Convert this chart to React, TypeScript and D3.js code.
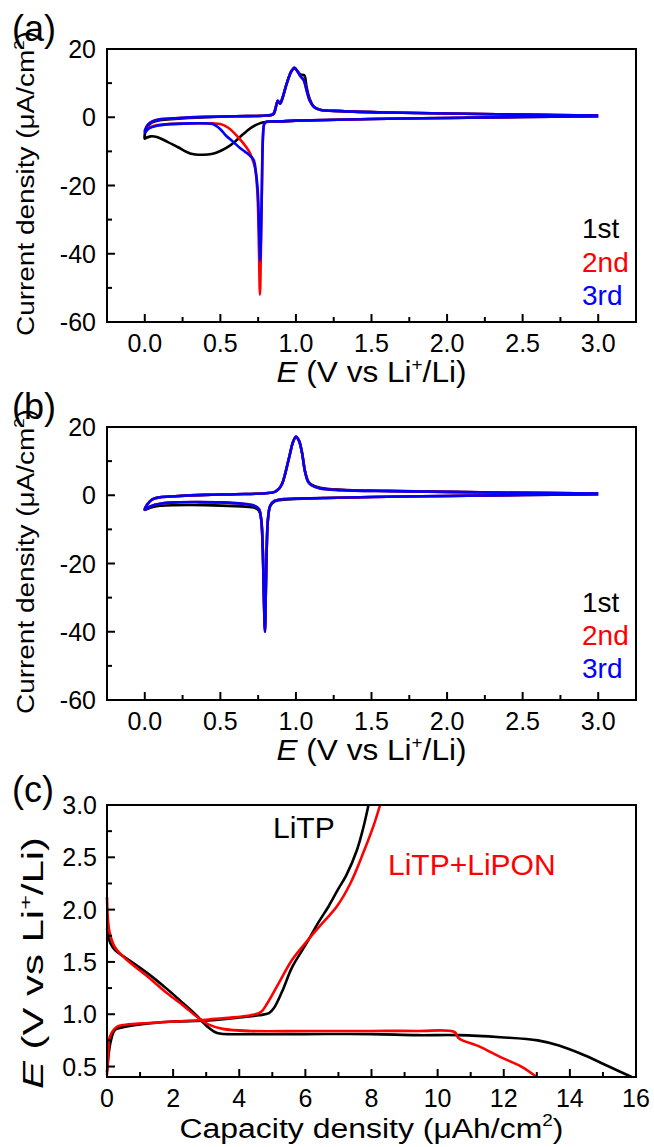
import React, { useEffect, useRef } from "react";
import * as d3 from "d3";

type Pt = [number, number];

// ---- (a) CV, three cycles (E in V, current in uA/cm2) ----
const aCycle1: Pt[] = [
  [3.0, 0.3], [2.5, 0.1], [2.0, -0.2], [1.5, -0.5], [1.2, -0.8], [1.0, -1.0], [0.9, -1.2], [0.8, -1.4],
  [0.76, -1.8], [0.7, -3.2], [0.65, -5], [0.6, -7], [0.55, -8.7], [0.5, -9.9], [0.45, -10.7], [0.38, -11],
  [0.3, -10.6], [0.22, -8.8], [0.15, -7.2], [0.08, -5.8], [0.04, -5.6], [0.01, -6], [0.0, -6.3],
  [0.005, -4], [0.02, -2.5], [0.05, -1.5], [0.1, -0.9], [0.2, -0.5], [0.4, 0.0], [0.6, 0.3], [0.8, 0.5],
  [0.85, 0.9], [0.87, 3.5], [0.88, 4.8], [0.895, 4.0], [0.91, 5.5], [0.94, 10], [0.97, 13.5], [0.99, 14.3],
  [1.01, 13.5], [1.03, 12.5], [1.055, 12.3], [1.07, 9], [1.09, 5.5], [1.12, 3], [1.16, 2.2], [1.3, 1.8],
  [1.6, 1.4], [2.0, 1.1], [2.5, 0.8], [3.0, 0.5],
];
const aCycle2: Pt[] = [
  [3.0, 0.3], [2.5, 0.1], [2.0, -0.2], [1.5, -0.5], [1.2, -0.8], [1.0, -1.0], [0.9, -1.2], [0.8, -1.4],
  [0.79, -2], [0.782, -5], [0.775, -20], [0.768, -40], [0.762, -52], [0.755, -38], [0.745, -22], [0.73, -15],
  [0.71, -12], [0.69, -10], [0.65, -7.5], [0.6, -5], [0.55, -3], [0.5, -2], [0.45, -1.8], [0.3, -1.8],
  [0.15, -2], [0.08, -2.3], [0.03, -3], [0.0, -4],
  [0.02, -2.2], [0.05, -1.2], [0.1, -0.6], [0.2, -0.3], [0.4, 0.1], [0.6, 0.3], [0.8, 0.5],
  [0.85, 0.9], [0.87, 3.5], [0.88, 4.8], [0.895, 4.0], [0.91, 5.5], [0.94, 10], [0.97, 13.5], [0.99, 14.5],
  [1.01, 13.5], [1.03, 12], [1.05, 11], [1.07, 8], [1.09, 5], [1.12, 3], [1.16, 2.2], [1.3, 1.8],
  [1.6, 1.4], [2.0, 1.1], [2.5, 0.8], [3.0, 0.5],
];
const aCycle3: Pt[] = [
  [3.0, 0.3], [2.5, 0.1], [2.0, -0.2], [1.5, -0.5], [1.2, -0.8], [1.0, -1.0], [0.9, -1.2], [0.8, -1.4],
  [0.79, -2], [0.782, -6], [0.775, -20], [0.768, -36], [0.763, -42], [0.757, -34], [0.748, -22], [0.735, -16],
  [0.72, -12.5], [0.69, -11], [0.66, -10], [0.63, -9], [0.58, -7], [0.54, -5.5], [0.5, -3.5], [0.45, -2],
  [0.4, -1.8], [0.3, -1.8], [0.15, -2.1], [0.08, -2.5], [0.03, -3.2], [0.0, -4.5],
  [0.02, -2.2], [0.05, -1.2], [0.1, -0.6], [0.2, -0.3], [0.4, 0.1], [0.6, 0.3], [0.8, 0.5],
  [0.85, 0.9], [0.87, 3.5], [0.88, 4.8], [0.895, 4.0], [0.91, 5.5], [0.94, 10], [0.97, 13.5], [0.99, 14.6],
  [1.01, 13.5], [1.03, 12], [1.05, 11], [1.07, 8], [1.09, 5], [1.12, 3], [1.16, 2.2], [1.3, 1.8],
  [1.6, 1.4], [2.0, 1.1], [2.5, 0.8], [3.0, 0.5],
];

// ---- (b) CV, three cycles ----
const bCycle1: Pt[] = [
  [3.0, 0.3], [2.5, 0.1], [2.0, -0.2], [1.5, -0.5], [1.2, -0.8], [1.0, -1.1], [0.92, -1.3], [0.86, -1.8],
  [0.83, -3.2], [0.815, -7], [0.807, -15], [0.8, -30], [0.795, -39], [0.788, -30], [0.78, -15], [0.77, -7],
  [0.755, -4.5], [0.72, -3.6], [0.6, -3.2], [0.4, -2.9], [0.2, -2.9], [0.1, -3.1], [0.04, -3.6], [0.0, -4.3],
  [0.02, -2.5], [0.05, -1.2], [0.1, -0.6], [0.2, -0.3], [0.4, 0.1], [0.6, 0.3], [0.8, 0.6], [0.86, 1.0],
  [0.89, 2], [0.91, 3.5], [0.93, 6.5], [0.96, 12], [0.98, 15.5], [1.0, 17], [1.02, 16], [1.04, 12.5],
  [1.06, 7], [1.08, 4.2], [1.1, 3.2], [1.16, 2.2], [1.3, 1.6], [1.6, 1.3], [2.0, 1.0], [2.5, 0.7], [3.0, 0.5],
];
const bCycle2: Pt[] = [
  [3.0, 0.3], [2.5, 0.1], [2.0, -0.2], [1.5, -0.5], [1.2, -0.8], [1.0, -1.0], [0.92, -1.1], [0.86, -1.6],
  [0.83, -3], [0.815, -7], [0.807, -15], [0.8, -30], [0.795, -40], [0.788, -30], [0.78, -15], [0.77, -7],
  [0.755, -4], [0.72, -3], [0.65, -2.5], [0.5, -2.1], [0.35, -2], [0.2, -2.1], [0.1, -2.5], [0.04, -3.2],
  [0.0, -4.2],
  [0.02, -2.5], [0.05, -1.2], [0.1, -0.6], [0.2, -0.3], [0.4, 0.1], [0.6, 0.3], [0.8, 0.6], [0.86, 1.0],
  [0.89, 2], [0.91, 3.5], [0.93, 6.5], [0.96, 12], [0.98, 15.5], [1.0, 17.2], [1.02, 16], [1.04, 12.5],
  [1.06, 7], [1.08, 4], [1.1, 3], [1.16, 2], [1.3, 1.5], [1.6, 1.2], [2.0, 1.0], [2.5, 0.7], [3.0, 0.5],
];
const bCycle3: Pt[] = [
  [3.0, 0.3], [2.5, 0.1], [2.0, -0.2], [1.5, -0.5], [1.2, -0.8], [1.0, -1.0], [0.92, -1.1], [0.86, -1.6],
  [0.83, -3], [0.815, -7], [0.807, -15], [0.8, -30], [0.795, -40], [0.788, -30], [0.78, -15], [0.77, -7],
  [0.755, -4], [0.72, -3], [0.65, -2.5], [0.5, -2.1], [0.35, -2], [0.2, -2.1], [0.1, -2.5], [0.04, -3.2],
  [0.0, -4.2],
  [0.02, -2.5], [0.05, -1.2], [0.1, -0.6], [0.2, -0.3], [0.4, 0.1], [0.6, 0.3], [0.8, 0.6], [0.86, 1.0],
  [0.89, 2], [0.91, 3.5], [0.93, 6.5], [0.96, 12], [0.98, 15.5], [1.0, 17.2], [1.02, 16], [1.04, 12.5],
  [1.06, 7], [1.08, 4], [1.1, 3], [1.16, 2], [1.3, 1.5], [1.6, 1.2], [2.0, 1.0], [2.5, 0.7], [3.0, 0.5],
];

// ---- (c) discharge / charge (capacity uAh/cm2, E in V) ----
const litpDischarge: Pt[] = [
  [0, 1.82], [0.1, 1.68], [0.25, 1.61], [0.56, 1.54], [1.19, 1.4], [1.82, 1.24], [2.32, 1.1], [2.7, 0.99],
  [3.08, 0.87], [3.33, 0.82], [4.34, 0.81], [6, 0.81], [8, 0.81], [9.38, 0.8], [10.64, 0.8], [11.9, 0.78],
  [13.03, 0.75], [13.67, 0.7], [14.42, 0.61], [15.18, 0.5], [15.87, 0.4],
];
const litpCharge: Pt[] = [
  [0, 0.45], [0.05, 0.62], [0.12, 0.75], [0.24, 0.85], [0.56, 0.88], [1.19, 0.91], [2, 0.93], [3.08, 0.94],
  [4.0, 0.97], [4.6, 0.99], [4.9, 1.01], [5.05, 1.06], [5.3, 1.22], [5.6, 1.45], [6.0, 1.66], [6.4, 1.88],
  [6.7, 2.03], [7.0, 2.2], [7.24, 2.33], [7.56, 2.57], [7.75, 2.78], [7.91, 3.0],
];
const liponDischarge: Pt[] = [
  [0, 2.12], [0.03, 1.9], [0.08, 1.78], [0.24, 1.64], [0.56, 1.53], [1.19, 1.37], [1.82, 1.2], [2.32, 1.08],
  [2.7, 0.98], [3.08, 0.9], [3.5, 0.86], [4.34, 0.84], [6, 0.84], [8, 0.84], [9.38, 0.84], [10.51, 0.83],
  [10.64, 0.77], [11.27, 0.69], [11.9, 0.59], [12.53, 0.5], [13.0, 0.4],
];
const liponCharge: Pt[] = [
  [0, 0.42], [0.04, 0.6], [0.08, 0.78], [0.3, 0.88], [0.56, 0.9], [1.5, 0.92], [3.08, 0.95], [4.34, 0.99],
  [4.65, 1.02], [4.84, 1.1], [5.2, 1.3], [5.6, 1.52], [6.0, 1.68], [6.4, 1.83], [6.95, 2.03], [7.36, 2.25],
  [7.76, 2.55], [8.06, 2.8], [8.26, 3.0],
];

// ticks
const cvXTicks = [0, 0.5, 1.0, 1.5, 2.0, 2.5, 3.0];
const cvXMinor = [0.25, 0.75, 1.25, 1.75, 2.25, 2.75];
const cvYTicks = [20, 0, -20, -40, -60];
const cvYMinor = [10, -10, -30, -50];
const gcdXTicks = [0, 2, 4, 6, 8, 10, 12, 14, 16];
const gcdXMinor = [1, 3, 5, 7, 9, 11, 13, 15];
const gcdYTicks = [0.5, 1.0, 1.5, 2.0, 2.5, 3.0];
const gcdYMinor = [0.75, 1.25, 1.75, 2.25, 2.75];

const cycleNames = ["1st", "2nd", "3rd"];
const cycleColors = ["#000000", "#ff0000", "#0000ff"];

const FONT = "'Liberation Sans', Arial, Helvetica, sans-serif";
const W = 654;
const H = 1147;
const L = 107;
const R = 636;

function App() {
  const ref = useRef<SVGSVGElement>(null);

  useEffect(() => {
    if (!ref.current) return;
    const svg = d3.select(ref.current);
    svg.selectAll("*").remove();

    const frame = (g: any, x: any, y: any, top: number, bottom: number, xMaj: number[], xMin: number[], yMaj: number[], yMin: number[], xFmt: (v: number) => string, yFmt: (v: number) => string, yLabX: number) => {
      g.append("rect")
        .attr("x", L).attr("y", top).attr("width", R - L).attr("height", bottom - top)
        .attr("fill", "none").attr("stroke", "#000").attr("stroke-width", 2);
      xMaj.forEach((v) => {
        g.append("line").attr("x1", x(v)).attr("x2", x(v)).attr("y1", bottom).attr("y2", bottom - 8).attr("stroke", "#000").attr("stroke-width", 2);
        g.append("text").attr("x", x(v)).attr("y", bottom + 30).attr("text-anchor", "middle")
          .attr("font-size", 25).text(xFmt(v));
      });
      xMin.forEach((v) => {
        g.append("line").attr("x1", x(v)).attr("x2", x(v)).attr("y1", bottom).attr("y2", bottom - 5).attr("stroke", "#000").attr("stroke-width", 2);
      });
      yMaj.forEach((v) => {
        g.append("line").attr("x1", L).attr("x2", L + 8).attr("y1", y(v)).attr("y2", y(v)).attr("stroke", "#000").attr("stroke-width", 2);
        g.append("text").attr("x", yLabX).attr("y", y(v)).attr("dy", "0.36em").attr("text-anchor", "end")
          .attr("font-size", 25).text(yFmt(v));
      });
      yMin.forEach((v) => {
        g.append("line").attr("x1", L).attr("x2", L + 5).attr("y1", y(v)).attr("y2", y(v)).attr("stroke", "#000").attr("stroke-width", 2);
      });
    };

    const eTitle = (t: any, size: number) => {
      t.append("tspan").attr("font-style", "italic").text("E");
      t.append("tspan").text(" (V vs Li");
      t.append("tspan").attr("font-size", size * 0.6).attr("dy", -size * 0.4).text("+");
      t.append("tspan").attr("dy", size * 0.4).text("/Li)");
    };

    const panelLabel = (g: any, label: string, baseY: number) => {
      g.append("text").attr("x", 12).attr("y", baseY).attr("font-size", 36).text(label);
    };

    const cvX = d3.scaleLinear().domain([-0.25, 3.25]).range([L, R]);

    const cvPanel = (top: number, bottom: number, cycles: Pt[][], label: string, legendBase: number[]) => {
      const g = svg.append("g").attr("font-family", FONT);
      const y = d3.scaleLinear().domain([-60, 20]).range([bottom, top]);
      const line = d3.line<Pt>().x((d) => cvX(d[0])).y((d) => y(d[1])).curve(d3.curveCatmullRom.alpha(0.5));
      cycles.forEach((c, i) => {
        g.append("path").attr("d", line(c)).attr("fill", "none").attr("stroke", cycleColors[i])
          .attr("stroke-width", 2.6).attr("stroke-linejoin", "round");
      });
      frame(g, cvX, y, top, bottom, cvXTicks, cvXMinor, cvYTicks, cvYMinor, (v) => v.toFixed(1), (v) => String(v), 96);

      const xt = g.append("text").attr("x", (L + R) / 2).attr("y", bottom + 60).attr("text-anchor", "middle")
        .attr("font-size", 29).attr("textLength", 190).attr("lengthAdjust", "spacingAndGlyphs");
      eTitle(xt, 29);

      const yt = g.append("text").attr("transform", `translate(34,${(top + bottom) / 2 - 2}) rotate(-90)`)
        .attr("text-anchor", "middle").attr("font-size", 23).attr("textLength", 305).attr("lengthAdjust", "spacingAndGlyphs");
      yt.append("tspan").text("Current density (\u03bcA/cm");
      yt.append("tspan").attr("font-size", 14).attr("dy", -10).text("2");
      yt.append("tspan").attr("dy", 10).text(")");

      cycleNames.forEach((n, i) => {
        g.append("text").attr("x", 582).attr("y", legendBase[i]).attr("font-size", 28).attr("fill", cycleColors[i]).text(n);
      });
      panelLabel(g, label, top - 8);
    };

    cvPanel(49, 322, [aCycle1, aCycle2, aCycle3], "(a)", [238, 272, 305]);
    cvPanel(427, 700, [bCycle1, bCycle2, bCycle3], "(b)", [612, 645, 678]);

    // ---- (c) ----
    const top = 805;
    const bottom = 1077;
    const g = svg.append("g").attr("font-family", FONT);
    const x = d3.scaleLinear().domain([0, 16]).range([L, R]);
    const y = d3.scaleLinear().domain([0.4, 3.0]).range([bottom, top]);
    const line = d3.line<Pt>().x((d) => x(d[0])).y((d) => y(d[1])).curve(d3.curveCatmullRom.alpha(0.5));
    [
      { d: litpDischarge, c: "#000000" },
      { d: litpCharge, c: "#000000" },
      { d: liponDischarge, c: "#ff0000" },
      { d: liponCharge, c: "#ff0000" },
    ].forEach((s) => {
      g.append("path").attr("d", line(s.d)).attr("fill", "none").attr("stroke", s.c)
        .attr("stroke-width", 2.6).attr("stroke-linejoin", "round");
    });
    frame(g, x, y, top, bottom, gcdXTicks, gcdXMinor, gcdYTicks, gcdYMinor, (v) => String(v), (v) => v.toFixed(1), 97);

    const xt = g.append("text").attr("x", (L + R) / 2).attr("y", 1138).attr("text-anchor", "middle")
      .attr("font-size", 27).attr("textLength", 384).attr("lengthAdjust", "spacingAndGlyphs");
    xt.append("tspan").text("Capacity density (\u03bcAh/cm");
    xt.append("tspan").attr("font-size", 16).attr("dy", -12).text("2");
    xt.append("tspan").attr("dy", 12).text(")");

    const yt = g.append("text").attr("transform", `translate(43,963) rotate(-90)`)
      .attr("text-anchor", "middle").attr("font-size", 29).attr("textLength", 252).attr("lengthAdjust", "spacingAndGlyphs");
    eTitle(yt, 29);

    g.append("text").attr("x", 273).attr("y", 838).attr("font-size", 30).text("LiTP");
    g.append("text").attr("x", 388).attr("y", 875).attr("font-size", 30).attr("fill", "#ff0000").text("LiTP+LiPON");
    panelLabel(g, "(c)", 802);
  }, []);

  return (
    <svg
      ref={ref}
      width={W}
      height={H}
      style={{ position: "absolute", left: 0, top: 0, background: "#fff" }}
    />
  );
}

export default App;
